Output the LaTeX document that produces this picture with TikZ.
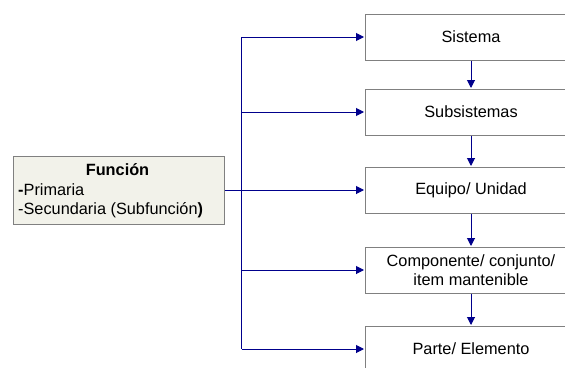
\documentclass[tikz,border=0pt]{standalone}
\usepackage{fontspec}
\setmainfont{Liberation Sans}
\usetikzlibrary{arrows.meta}
\definecolor{linkblue}{RGB}{0,0,140}
\definecolor{boxgray}{RGB}{128,128,128}
\definecolor{funcfill}{RGB}{242,242,234}
\begin{document}
\begin{tikzpicture}[x=1pt,y=-1pt,
  every node/.style={font=\fontsize{16.3}{18.5}\selectfont, inner sep=0pt},
  levelbox/.style={draw=boxgray, line width=1pt, fill=white, anchor=north west,
    minimum width=212pt, minimum height=46pt, align=center},
  link/.style={color=linkblue, line width=1pt},
  arr/.style={link, -{Triangle[length=8pt,width=8pt]}, shorten >=0.5pt}]
\clip (0,0) rectangle (565,367);
\fill[white] (0,0) rectangle (565,367);

% hierarchy levels (right edge runs past the page)
\node[levelbox] (s1) at (364.5,13.5)  {Sistema};
\node[levelbox] (s2) at (364.5,88.5)  {Subsistemas};
\node[levelbox] (s3) at (364.5,166.5) {Equipo/ Unidad};
\node[levelbox] (s4) at (364.5,246.5) {Componente/ conjunto/\\item mantenible};
\node[levelbox] (s5) at (364.5,325.5) {Parte/ Elemento};

% function box
\node[draw=boxgray, line width=1pt, fill=funcfill, anchor=north west,
  minimum width=211pt, minimum height=68pt] (f) at (12.5,155.5) {};
\node[anchor=base] (ft) at (117.5,175.5) {\textbf{Función}};
\node[anchor=base west] (f1) at (18,195) {\textbf{-}Primaria};
\node[anchor=base west] (f2) at (18,214.5) {-Secundaria (Subfunción\textbf{)}};

% trunk and branches
\coordinate (trunk) at (241.5,0);
\draw[link] (trunk |- s1.west) -- (trunk |- s5.west);
\draw[arr] (trunk |- s1.west) -- (s1.west);
\draw[arr] (trunk |- s2.west) -- (s2.west);
\draw[arr] (f.east) -- (s3.west);
\draw[arr] (trunk |- s4.west) -- (s4.west);
\draw[arr] (trunk |- s5.west) -- (s5.west);

% level to level
\draw[arr] (s1.south) -- (s2.north);
\draw[arr] (s2.south) -- (s3.north);
\draw[arr] (s3.south) -- (s4.north);
\draw[arr] (s4.south) -- (s5.north);
\end{tikzpicture}
\end{document}
